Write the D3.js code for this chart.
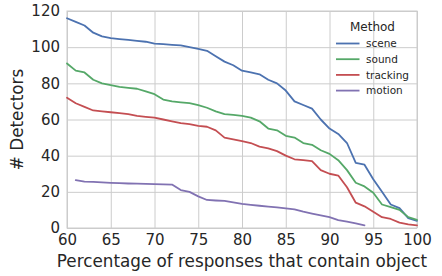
<!DOCTYPE html>
<html>
<head>
<meta charset="utf-8">
<script src="https://cdn.jsdelivr.net/npm/d3@7"></script>
<style>
  html, body { margin: 0; padding: 0; background: #fff; }
  svg { display: block; }
</style>
</head>
<body>
<svg id="chart" width="442" height="276"></svg>
<script>
const xValues = [60,61,62,63,64,65,66,67,68,69,70,71,72,73,74,75,76,77,78,79,80,81,82,83,84,85,86,87,88,89,90,91,92,93,94,95,96,97,98,99,100];
const scene = [116,114,112,108,106,105,104.5,104,103.5,103,102,101.7,101.3,101,100,99,98,95,92,90,87,86,85,82,80,76,70,68,66,60,55,52,47,36,35,27,20,13,11,5.5,4];
const sound = [91,87,86,82,80,79,78,77.5,77,75.5,74,71,70,69.5,69,68,66.5,64.5,63,62.5,62,61,59,55,54,51,50,47,46,43,41,37.5,32,25,23,19.5,13,11.5,10,6,4.5];
const tracking = [72,69,67,65,64.5,64,63.5,63,62,61.5,61,60,59,58,57.5,56.5,56,54,50,49,48,47,45,44,42.5,40,38,37.5,37,32,30,29,22.5,14,12,9,6,5,3,2,1.5];
const motionX = [61,62,63,64,65,66,67,68,69,70,71,72,73,74,75,76,77,78,79,80,81,82,83,84,85,86,87,88,89,90,91,92,93,94];
const motion = [26.5,25.7,25.5,25.2,25,24.8,24.6,24.5,24.4,24.3,24.1,24,21,20,17.5,15.5,15.2,15,14.2,13.3,12.8,12.3,11.8,11.4,10.8,10.3,9,8,7,6,4.4,3.5,2.5,1.5];
const seriesNames = ["scene","sound","tracking","motion"];
const seriesColors = ["#4C72B0","#55A868","#C44E52","#8172B2"];
const xTicks = [60,65,70,75,80,85,90,95,100];
const yTicks = [0,20,40,60,80,100,120];
const xLabel = "Percentage of responses that contain object";
const yLabel = "# Detectors";
const legendTitle = "Method";

const series = [
  {name: seriesNames[0], xs: xValues, ys: scene},
  {name: seriesNames[1], xs: xValues, ys: sound},
  {name: seriesNames[2], xs: xValues, ys: tracking},
  {name: seriesNames[3], xs: motionX, ys: motion}
];

const svg = d3.select("#chart");
const margin = {left: 67, right: 25, top: 11, bottom: 48};
const W = 442, H = 276;
const x = d3.scaleLinear().domain([60,100]).range([margin.left, W - margin.right]);
const y = d3.scaleLinear().domain([0,120]).range([H - margin.bottom, margin.top]);
const font = "'DejaVu Sans', sans-serif";
const textColor = "#262626";
const gridColor = "#cccccc";
const tickSize = "15px";
const labelSize = "16.8px";

// grid
const g = svg.append("g");
g.append("g").attr("transform", `translate(0,${y(0)})`)
  .call(d3.axisBottom(x).tickValues(xTicks).tickSize(-(y(0)-y(120))).tickFormat(d => d).tickPadding(6))
  .call(a => {
    a.select(".domain").remove();
    a.selectAll("line").attr("stroke", gridColor).attr("stroke-width", 1);
    a.selectAll("text").attr("fill", textColor).style("font-family", font).style("font-size", tickSize);
  });
g.append("g").attr("transform", `translate(${x(60)},0)`)
  .call(d3.axisLeft(y).tickValues(yTicks).tickSize(-(x(100)-x(60))).tickFormat(d => d).tickPadding(7))
  .call(a => {
    a.select(".domain").remove();
    a.selectAll("line").attr("stroke", gridColor).attr("stroke-width", 1);
    a.selectAll("text").attr("fill", textColor).style("font-family", font).style("font-size", tickSize);
  });

// frame
svg.append("rect")
  .attr("x", x(60)).attr("y", y(120))
  .attr("width", x(100)-x(60)).attr("height", y(0)-y(120))
  .attr("fill", "none").attr("stroke", gridColor).attr("stroke-width", 1);

// lines
const line = d3.line().x(d => x(d[0])).y(d => y(d[1]));
series.forEach((s, i) => {
  svg.append("path")
    .datum(s.xs.map((xv, j) => [xv, s.ys[j]]))
    .attr("d", line)
    .attr("fill", "none")
    .attr("stroke", seriesColors[i])
    .attr("stroke-width", 1.8)
    .attr("stroke-linejoin", "round")
    .attr("stroke-linecap", "round");
});

// axis labels
svg.append("text")
  .attr("x", (x(60)+x(100))/2).attr("y", 267)
  .attr("text-anchor", "middle")
  .attr("fill", textColor).style("font-family", font).style("font-size", labelSize)
  .text(xLabel);
svg.append("text")
  .attr("transform", `translate(23,${(y(0)+y(120))/2}) rotate(-90)`)
  .attr("text-anchor", "middle")
  .attr("fill", textColor).style("font-family", font).style("font-size", labelSize)
  .text(yLabel);

// legend
const lg = svg.append("g");
lg.append("text")
  .attr("x", 372.5).attr("y", 30.5)
  .attr("text-anchor", "middle")
  .attr("fill", textColor).style("font-family", font).style("font-size", "12px")
  .text(legendTitle);
seriesNames.forEach((n, i) => {
  const yy = 43.5 + i * 15.7;
  lg.append("line")
    .attr("x1", 336).attr("x2", 359.5).attr("y1", yy).attr("y2", yy)
    .attr("stroke", seriesColors[i]).attr("stroke-width", 1.8);
  lg.append("text")
    .attr("x", 366).attr("y", yy + 3.7)
    .attr("fill", textColor).style("font-family", font).style("font-size", "10.5px")
    .text(n);
});
</script>
</body>
</html>
